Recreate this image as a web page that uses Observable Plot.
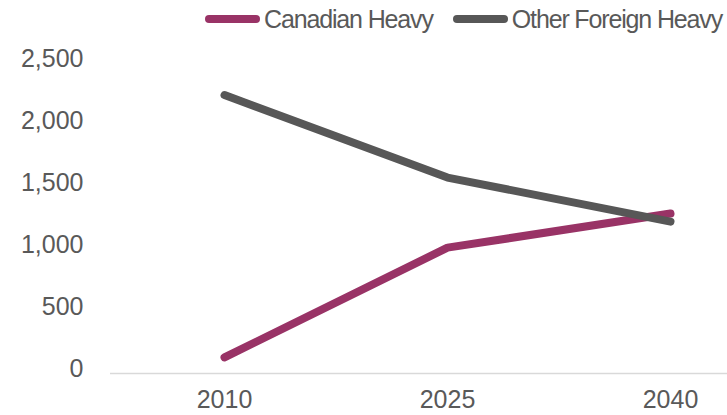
<!DOCTYPE html>
<html><head><meta charset="utf-8">
<script src="https://cdn.jsdelivr.net/npm/d3@7"></script>
<script src="https://cdn.jsdelivr.net/npm/@observablehq/plot@0.6"></script>
<style>
body{margin:0;background:#fff;font-family:"Liberation Sans",Arial,sans-serif;}
#wrap{width:727px;height:415px;position:relative;}
#legend{height:40px;display:flex;justify-content:flex-end;align-items:center;padding-right:5px;padding-bottom:2px;font-size:25px;letter-spacing:-1.15px;color:#595959;box-sizing:border-box;}
.item{display:flex;align-items:center;margin-left:20px;}
.sw{width:55px;height:8px;border-radius:4px;margin-right:4px;}
</style></head>
<body><div id="wrap"><div id="legend"></div><div id="chart"></div></div>
<script>
const years = ["2010", "2025", "2040"];
const seriesNames = ["Canadian Heavy", "Other Foreign Heavy"];
const canadianHeavy = [130, 1015, 1290];
const otherForeignHeavy = [2245, 1580, 1225];
const yTicks = [0, 500, 1000, 1500, 2000, 2500];
const colors = ["#993366", "#575757"];

const rows = [];
years.forEach((y, i) => {
  rows.push({year: y, value: canadianHeavy[i], series: seriesNames[0]});
  rows.push({year: y, value: otherForeignHeavy[i], series: seriesNames[1]});
});

const legend = document.getElementById("legend");
seriesNames.forEach((s, i) => {
  const it = document.createElement("div");
  it.className = "item";
  it.innerHTML = `<span class="sw" style="background:${colors[i]}"></span><span>${s}</span>`;
  legend.appendChild(it);
});

const chart = Plot.plot({
  width: 727,
  height: 375,
  marginTop: 23,
  marginBottom: 42,
  marginLeft: 110,
  marginRight: 0,
  style: {fontFamily: "Liberation Sans, Arial, sans-serif", fontSize: "25px", color: "#595959", background: "#fff"},
  x: {type: "point", domain: years, range: [224, 670], padding: 0, label: null},
  y: {domain: [0, 2500], label: null},
  marks: [
    Plot.ruleY([0], {stroke: "#d9d9d9", strokeWidth: 1.5}),
    Plot.axisY(yTicks, {tickSize: 0, tickPadding: 27, dy: -5, tickFormat: d3.format(","), fill: "#595959", fontSize: 25}),
    Plot.axisX(years, {tickSize: 0, tickPadding: 17, fill: "#595959", fontSize: 25}),
    Plot.line(rows.filter(d => d.series === seriesNames[0]), {x: "year", y: "value", stroke: colors[0], strokeWidth: 8, strokeLinecap: "round", strokeLinejoin: "round"}),
    Plot.line(rows.filter(d => d.series === seriesNames[1]), {x: "year", y: "value", stroke: colors[1], strokeWidth: 8, strokeLinecap: "round", strokeLinejoin: "round"})
  ]
});
document.getElementById("chart").appendChild(chart);
</script></body></html>
